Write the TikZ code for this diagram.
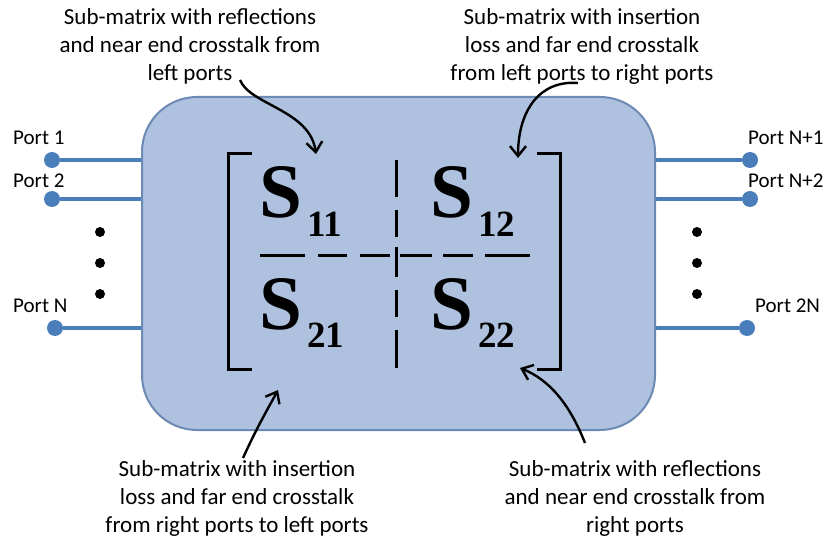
\documentclass[tikz,border=0pt]{standalone}
\usepackage{fontspec}
\setmainfont{Carlito}
\newfontfamily\matfont{Liberation Serif}
\usetikzlibrary{arrows.meta}
\definecolor{boxfill}{RGB}{174,193,222}
\definecolor{boxline}{RGB}{108,138,180}
\definecolor{portblue}{RGB}{74,126,187}
\begin{document}
\begin{tikzpicture}[x=1pt,y=-1pt,
  note/.style={align=center,font=\fontsize{23}{28}\selectfont,inner sep=0,anchor=base},
  portlbl/.style={font=\fontsize{21}{21}\selectfont,inner sep=0,anchor=base west},
  portline/.style={portblue,line width=4.5pt},
  pdot/.style={circle,fill=portblue,minimum size=16pt,inner sep=0},
  bdot/.style={circle,fill=black,minimum size=10pt,inner sep=0},
  ann/.style={line width=2.4pt,-{Straight Barb[length=10pt,width=16pt,line width=2.4pt]}},
  brk/.style={line width=3pt},
  dsh/.style={line width=3pt},
  selem/.style={inner sep=0,anchor=base west,font=\matfont\bfseries\fontsize{77}{77}\selectfont}
]
\useasboundingbox (0,0) rectangle (825,537);

% main box
\node[draw=boxline,fill=boxfill,line width=2pt,rounded corners=55pt,
      minimum width=513pt,minimum height=333pt,inner sep=0] (box) at (398.5,263.5) {};

% left ports
\node[pdot] (p1) at (52,160) {};
\node[pdot] (p2) at (52,199) {};
\node[pdot] (pn) at (55,328) {};
\draw[portline] (p1) -- (box.west |- p1);
\draw[portline] (p2) -- (box.west |- p2);
\draw[portline] (pn) -- (box.west |- pn);
\node[portlbl] (l1) at (13,145) {Port 1};
\node[portlbl] (l2) at (13,188) {Port 2};
\node[portlbl] (ln) at (13,313) {Port N};
\node[bdot] (dl1) at (100,232) {};
\node[bdot] (dl2) at (100,263) {};
\node[bdot] (dl3) at (100,294) {};

% right ports
\node[pdot] (q1) at (750,160) {};
\node[pdot] (q2) at (750,199) {};
\node[pdot] (qn) at (747,328) {};
\draw[portline] (box.east |- q1) -- (q1);
\draw[portline] (box.east |- q2) -- (q2);
\draw[portline] (box.east |- qn) -- (qn);
\node[portlbl] (r1) at (748,145) {Port N+1};
\node[portlbl] (r2) at (748,188) {Port N+2};
\node[portlbl] (rn) at (755,313) {Port 2N};
\node[bdot] (dr1) at (697,232) {};
\node[bdot] (dr2) at (697,263) {};
\node[bdot] (dr3) at (697,294) {};

% brackets
\draw[brk] (252,154) -- (228,154) -- (228,370) -- (252,370);
\draw[brk] (537,154) -- (560,154) -- (560,370) -- (537,370);

% dashed partitions
\foreach \a/\b in {260/305,318/347,360/390,400/432,443/473,485/530}
  \draw[dsh] (\a,256) -- (\b,256);
\foreach \a/\b in {160/197,210/237,247/277,290/317,330/368}
  \draw[dsh] (396,\a) -- (396,\b);

% matrix elements
\node[selem] (s11) at (259,218) {S\kern5pt\raisebox{-19pt}{\fontsize{37}{37}\selectfont 11}};
\node[selem] (s12) at (430,218) {S\kern5pt\raisebox{-19pt}{\fontsize{37}{37}\selectfont 12}};
\node[selem] (s21) at (259,330) {S\kern5pt\raisebox{-18pt}{\fontsize{37}{37}\selectfont 21}};
\node[selem] (s22) at (430,330) {S\kern5pt\raisebox{-18pt}{\fontsize{37}{37}\selectfont 22}};

% annotations (anchor = baseline of last line)
\node[note] (n1) at (190,81) {Sub-matrix with reflections\\and near end crosstalk from\\left ports};
\node[note] (n2) at (582,81) {Sub-matrix with insertion\\loss and far end crosstalk\\from left ports to right ports};
\node[note] (n3) at (237,532) {Sub-matrix with insertion\\loss and far end crosstalk\\from right ports to left ports};
\node[note] (n4) at (635,532) {Sub-matrix with reflections\\and near end crosstalk from\\right ports};

\coordinate (a1s) at (240,80);  \coordinate (a1e) at (316,154);
\coordinate (a2s) at (578,83);  \coordinate (a2e) at (518,158);
\coordinate (a3s) at (243,458); \coordinate (a3e) at (278,390);
\coordinate (a4s) at (585,443); \coordinate (a4e) at (520,368);
\draw[ann] (a1s) .. controls (250,105) and (310,110) .. (a1e);
\draw[ann] (a2s) .. controls (540,80) and (518,110) .. (a2e);
\draw[ann] (a3s) .. controls (258,425) and (270,405) .. (a3e);
\draw[ann] (a4s) .. controls (570,405) and (550,380) .. (a4e);
\end{tikzpicture}
\end{document}
